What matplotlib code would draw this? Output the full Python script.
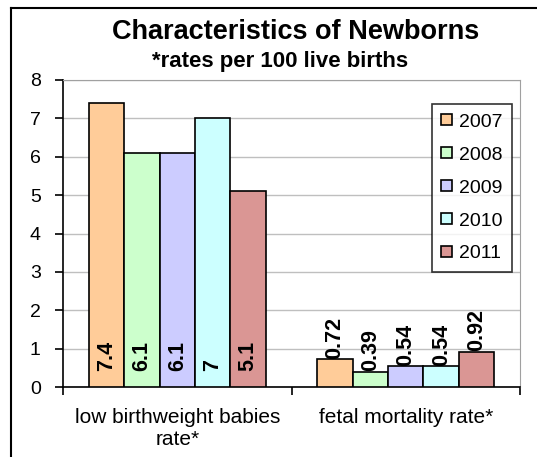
import matplotlib
matplotlib.use("Agg")
import matplotlib.pyplot as plt
import numpy as np
from matplotlib.lines import Line2D

plt.rcParams['font.family'] = ['Liberation Sans', 'DejaVu Sans']

categories = ["low birthweight babies\nrate*", "fetal mortality rate*"]
years = ["2007", "2008", "2009", "2010", "2011"]
values = [
    [7.4, 0.72],
    [6.1, 0.39],
    [6.1, 0.54],
    [7.0, 0.54],
    [5.1, 0.92],
]
labels = [
    ["7.4", "0.72"],
    ["6.1", "0.39"],
    ["6.1", "0.54"],
    ["7", "0.54"],
    ["5.1", "0.92"],
]
colors = ["#FFCC99", "#CCFFCC", "#CCCCFF", "#CCFFFF", "#DA9694"]

fig = plt.figure(figsize=(5.37, 4.57), dpi=100)
ax = fig.add_axes([63/537, 1-387/457, (520-63)/537, (387-80)/457])

x = np.arange(len(categories))
w = 0.155
for i, yr in enumerate(years):
    pos = x + (i - 2) * w
    ax.bar(pos, values[i], width=w, color=colors[i], edgecolor="black",
           linewidth=1.2, label=yr, zorder=3)
    for j in range(len(categories)):
        # first group: label near the base, second: above the bar
        ybase = 0.42 if j == 0 else values[i][j] + 0.02
        ax.text(pos[j], ybase, labels[i][j], rotation=90, ha="center",
                va="bottom", fontsize=15.5, fontweight="bold", zorder=4)

ax.set_xlim(-0.5, 1.5)
ax.set_ylim(0, 8)
ax.set_yticks(range(0, 9))
ax.yaxis.grid(True, color="#BFBFBF", linewidth=1, zorder=0)
ax.set_xticks([-0.5, 0.5, 1.5])
ax.set_xticklabels([])
ax.set_xticks(x, minor=True)
ax.set_xticklabels(categories, minor=True, fontsize=15, linespacing=1.2)
ax.tick_params(axis="x", which="minor", length=0, pad=15)
ax.tick_params(axis="x", which="major", length=6, width=1.2, direction="out")
ax.tick_params(axis="y", length=6, width=1.2, direction="out", labelsize=14, pad=10)
for s in ["top", "right"]:
    ax.spines[s].set_color("#A0A0A0")
for s in ["left", "bottom"]:
    ax.spines[s].set_linewidth(1.2)

leg = ax.legend(loc="upper right", bbox_to_anchor=(512/537, 1-104/457),
                bbox_transform=fig.transFigure, fontsize=14, frameon=True,
                fancybox=False, edgecolor="black", handlelength=0.55,
                handleheight=0.5, handletextpad=0.35, labelspacing=0.82,
                borderpad=0.5, borderaxespad=0)
leg.get_frame().set_linewidth(1.2)

fig.text(296/537, 1-32/457, "Characteristics of Newborns", ha="center",
         va="center", fontsize=19.5, fontweight="bold")
fig.text(280/537, 1-62/457, "*rates per 100 live births", ha="center",
         va="center", fontsize=16, fontweight="bold")

# outer chart border (left and top)
fig.add_artist(Line2D([11/537, 11/537], [0, 1-8/457], color="black", linewidth=1.5,
                      transform=fig.transFigure))
fig.add_artist(Line2D([11/537, 1], [1-8/457, 1-8/457], color="black", linewidth=1.5,
                      transform=fig.transFigure))

fig.savefig("out.png", dpi=100)
